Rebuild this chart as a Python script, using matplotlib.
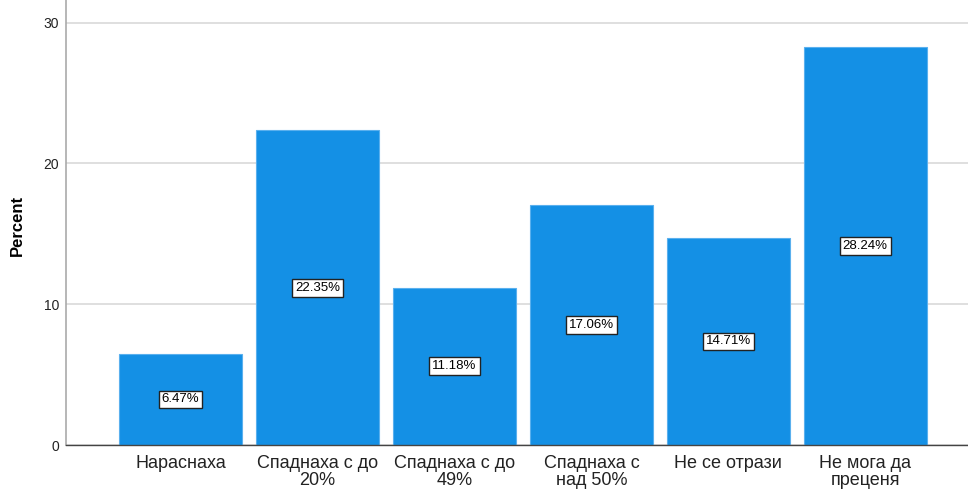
import matplotlib
matplotlib.use('Agg')
import matplotlib.pyplot as plt

categories = ['Нараснаха', 'Спаднаха с до\n20%', 'Спаднаха с до\n49%',
              'Спаднаха с\nнад 50%', 'Не се отрази', 'Не мога да\nпреценя']
percent = [6.47, 22.35, 11.18, 17.06, 14.71, 28.24]
yticks = [0, 10, 20, 30]

plt.rcParams['font.family'] = ['Liberation Sans', 'DejaVu Sans']

fig = plt.figure(figsize=(9.68, 4.9), dpi=100)
ax = fig.add_axes([66 / 968, 45 / 490, 1 - 66 / 968, 1 - 45 / 490])

x = range(len(categories))
ax.bar(x, percent, width=0.9, color='#1490E5', edgecolor='#5AB0EE',
       linewidth=0.8, zorder=2)

# value labels in the middle of each bar
for xi, v in zip(x, percent):
    ax.text(xi, v / 2, '%.2f%%' % v, ha='center', va='center', fontsize=9.5,
            color='black', zorder=3,
            bbox=dict(boxstyle='square,pad=0.22', facecolor='white',
                      edgecolor='#222222', linewidth=1.0))

ax.set_xlim(-0.837, 5.75)
ax.set_ylim(0, 31.6)
ax.set_yticks(yticks)
ax.set_xticks(list(x))
ax.set_xticklabels(categories, fontsize=13, color='#222222', linespacing=1.0)
ax.tick_params(axis='y', labelsize=10, length=0, pad=5, colors='#222222')
ax.tick_params(axis='x', length=0, pad=7)

ax.yaxis.grid(True, color='#d9d9d9', linewidth=1.2, zorder=0)
ax.set_axisbelow(True)

for s in ['top', 'right']:
    ax.spines[s].set_visible(False)
ax.spines['left'].set_color('#aaaaaa')
ax.spines['left'].set_linewidth(1.2)
ax.spines['bottom'].set_color('#444444')
ax.spines['bottom'].set_linewidth(1.0)

ax.set_ylabel('Percent', fontsize=12, fontweight='bold')
ax.yaxis.set_label_coords(-41 / 902, (445 - 225) / 445)

fig.savefig('out.png', dpi=100)
